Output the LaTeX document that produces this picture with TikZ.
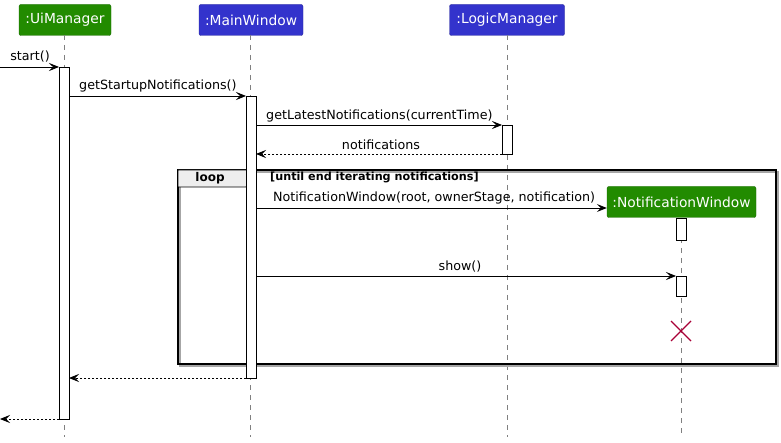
\documentclass[tikz,border=0pt]{standalone}
\usepackage{fontspec}
\setmainfont{DejaVu Sans}
\usetikzlibrary{arrows.meta}
\definecolor{partgreen}{RGB}{34,139,0}
\definecolor{partblue}{RGB}{51,51,204}
\definecolor{crossred}{RGB}{168,0,54}
\definecolor{tabgray}{RGB}{238,238,238}
\tikzset{
  partbox/.style={rounded corners=2pt, draw=#1!75!black, fill=#1, text=white,
    font=\fontsize{13.8}{16}\selectfont, minimum height=31pt, inner xsep=0pt},
  lifeline/.style={draw=gray, dash pattern=on 5pt off 5pt, line width=0.6pt},
  actbar/.style={draw, fill=white, line width=0.8pt},
  msg/.style={-{Stealth[length=10pt,width=8pt,inset=4pt]}, line width=0.8pt},
  reply/.style={msg, dash pattern=on 2pt off 2pt},
  msglabel/.style={font=\fontsize{12.7}{15}\selectfont, inner sep=0pt}
}
\begin{document}
\begin{tikzpicture}[x=1pt, y=-1pt]
		\useasboundingbox (0,0) rectangle (781,443);
		% participants
		\node[partbox=partgreen, minimum width=92pt] (ui) at (65,20) {:UiManager};
		\node[partbox=partblue, minimum width=104pt] (main) at (251,20) {:MainWindow};
		\node[partbox=partblue, minimum width=115pt] (logic) at (507,20) {:LogicManager};
		\node[partbox=partgreen, minimum width=149pt] (notif) at (681.5,202) {:NotificationWindow};

		% lifelines
		\draw[lifeline] (64,35) -- (64,437);
		\draw[lifeline] (250,35) -- (250,437);
		\draw[lifeline] (507,35) -- (507,437);
		\draw[lifeline] (681,218) -- (681,437);

		% loop frame
		\draw[gray!70, line width=1.2pt] (180,172) rectangle (778,366);
		\draw[line width=1.2pt] (178,170) rectangle (776,364);
		\draw[fill=tabgray, line width=0.8pt] (178,170) -- (256,170) -- (256,175) -- (246,187) -- (178,187) -- cycle;
		\node[font=\bfseries\fontsize{12}{14}\selectfont] (looptag) at (210,178.5) {loop};
		\node[font=\bfseries\fontsize{11.2}{13}\selectfont, anchor=west, inner sep=0pt] (guard) at (270,177.5) {[until end iterating notifications]};

		% activations
		\draw[actbar] (59,67) rectangle (69,419);
		\draw[actbar] (246,96) rectangle (256,378);
		\draw[actbar] (502,125) rectangle (512,154);
		\draw[actbar] (676,218) rectangle (686,240);
		\draw[actbar] (676,276) rectangle (686,296);

		% message end points
		\coordinate (startIn) at (0,67);
		\coordinate (uiStart) at (59,67);
		\coordinate (uiCall) at (69,96);
		\coordinate (mainIn) at (246,96);
		\coordinate (mainCall) at (256,125);
		\coordinate (logicIn) at (502,125);
		\coordinate (logicOut) at (502,154);
		\coordinate (mainBack) at (256,154);
		\coordinate (mainNew) at (256,208);
		\coordinate (mainShow) at (256,276);
		\coordinate (notifShow) at (676,276);
		\coordinate (mainOut) at (246,378);
		\coordinate (uiBack) at (69,378);
		\coordinate (uiOut) at (59,419);
		\coordinate (endOut) at (0,419);

		% messages
		\draw[msg] (startIn) -- (uiStart);
		\node[msglabel] (startLbl) at (30,57) {start()};
		\draw[msg] (uiCall) -- (mainIn);
		\node[msglabel, anchor=west] (getStartLbl) at (79,86) {getStartupNotifications()};
		\draw[msg] (mainCall) -- (logicIn);
		\node[msglabel, anchor=west] (getLatestLbl) at (266,116) {getLatestNotifications(currentTime)};
		\draw[reply] (logicOut) -- (mainBack);
		\node[msglabel] (notifsLbl) at (381,145) {notifications};
		\draw[msg] (mainNew) -- (notif.west |- mainNew);
		\node[msglabel, anchor=west] (newLbl) at (273,198) {NotificationWindow(root, ownerStage, notification)};
		\draw[msg] (mainShow) -- (notifShow);
		\node[msglabel] (showLbl) at (460,267) {show()};
		\draw[reply] (mainOut) -- (uiBack);
		\draw[reply] (uiOut) -- (endOut);

		% destroy
		\node (kill) at (681,331) {};
		\draw[crossred, line width=1.3pt] (kill.center) ++(-10,-10) -- ++(20,20) (kill.center) ++(-10,10) -- ++(20,-20);
	\end{tikzpicture}
\end{document}
